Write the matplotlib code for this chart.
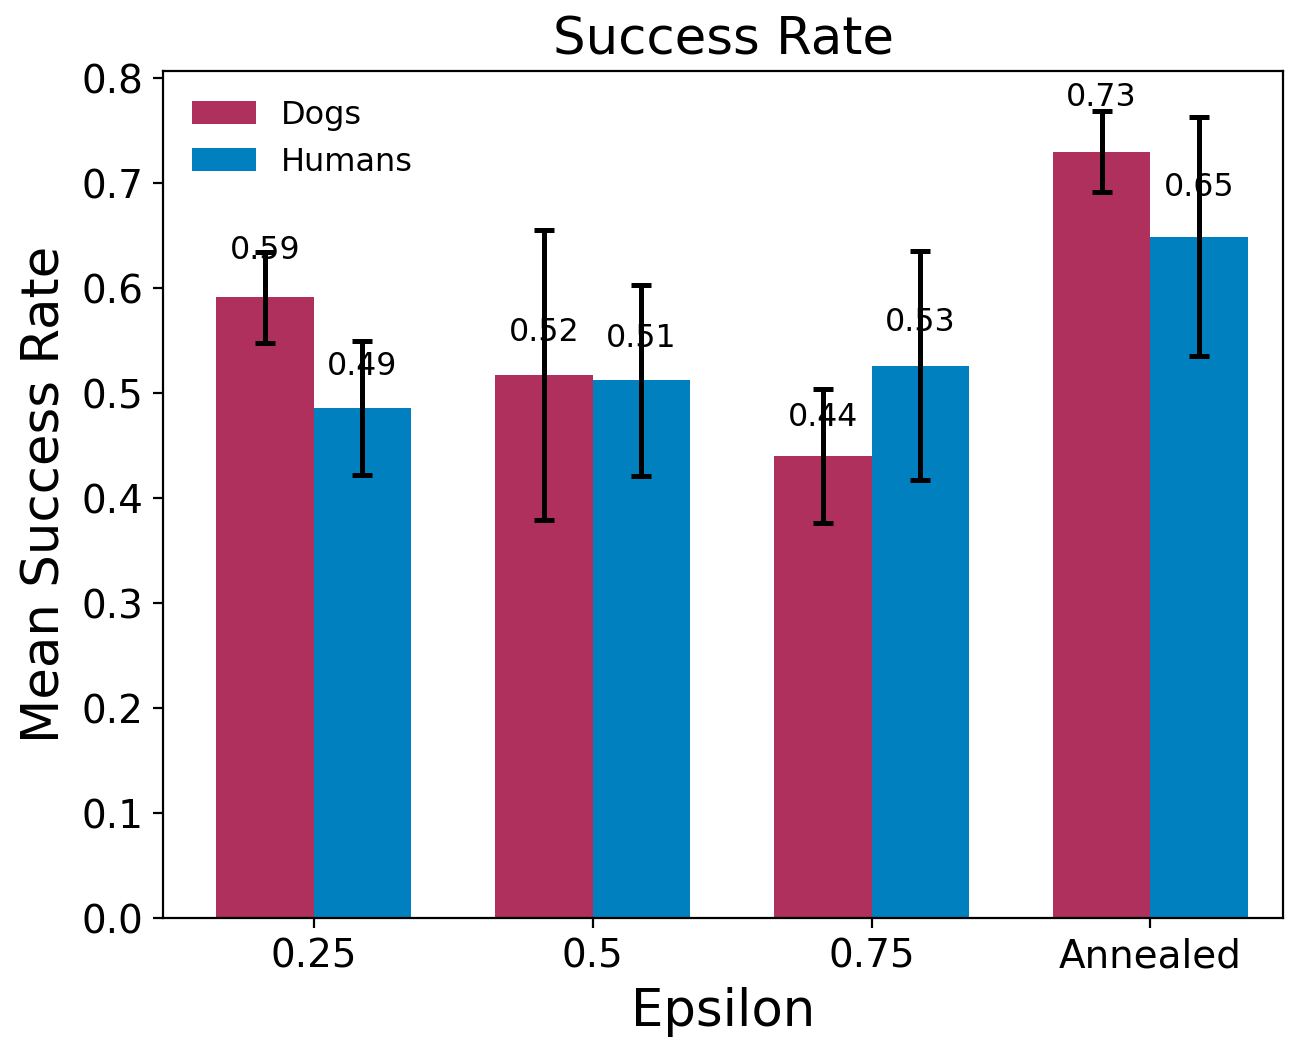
import numpy as np
import matplotlib
matplotlib.use("Agg")
import matplotlib.pyplot as plt

# ----------------------------------------------------------------
# DATA
# ----------------------------------------------------------------
epsilons = ["0.25", "0.5", "0.75", "Annealed"]

dogs_mean = [0.591, 0.517, 0.440, 0.730]
dogs_err = [0.043, 0.138, 0.064, 0.039]

humans_mean = [0.486, 0.512, 0.526, 0.649]
humans_err = [0.064, 0.091, 0.109, 0.114]

DOG_COLOR = "#AF305C"
HUMAN_COLOR = "#0080BE"
WIDTH = 0.35

# ----------------------------------------------------------------
# PLOT
# ----------------------------------------------------------------
fig = plt.figure(figsize=(6.485, 5.19), dpi=200)
ax = fig.add_axes([0.1257, 0.1156, 0.8635, 0.816])

x = np.arange(len(epsilons))
err_kw = dict(elinewidth=1.8, capsize=3.6, capthick=1.8, ecolor="black")

dog_bars = ax.bar(x - WIDTH / 2, dogs_mean, WIDTH, yerr=dogs_err,
                  color=DOG_COLOR, label="Dogs", error_kw=err_kw)
human_bars = ax.bar(x + WIDTH / 2, humans_mean, WIDTH, yerr=humans_err,
                    color=HUMAN_COLOR, label="Humans", error_kw=err_kw)

# value labels just above each bar
for bars in (dog_bars, human_bars):
    for rect in bars:
        h = rect.get_height()
        ax.text(rect.get_x() + rect.get_width() / 2, 1.05 * h, f"{h:.2f}",
                ha="center", va="bottom", fontsize=11.4)

ax.set_xticks(x)
ax.set_xticklabels(epsilons)
ax.set_xlim(-0.54, 3.475)
ax.set_ylim(0, 0.8067)
ax.set_yticks(np.arange(0, 0.81, 0.1))
ax.tick_params(axis="both", labelsize=14)

ax.set_title("Success Rate", fontsize=18.5)
ax.set_xlabel("Epsilon", fontsize=18.5)
ax.set_ylabel("Mean Success Rate", fontsize=18.5)

ax.legend(loc="upper left", frameon=False, fontsize=11.5)

fig.savefig("out.png", dpi=200)
